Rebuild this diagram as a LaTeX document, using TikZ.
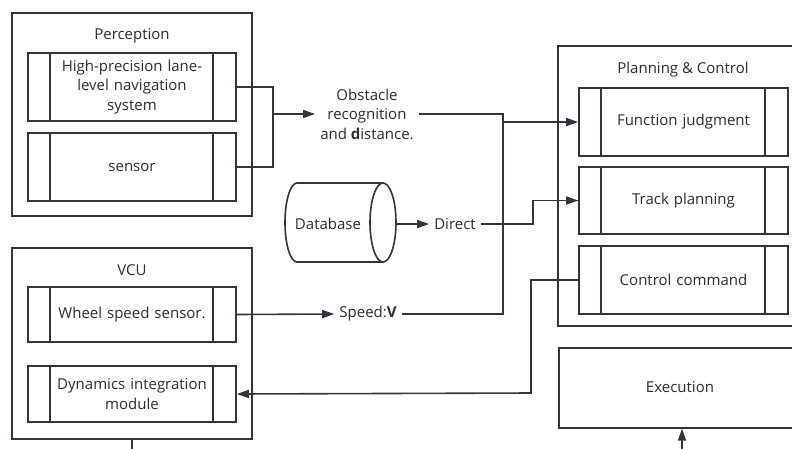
\documentclass[tikz,border=0pt]{standalone}
\usepackage{fontspec}
\setmainfont{Open Sans}
\usetikzlibrary{arrows.meta}
\definecolor{ink}{RGB}{45,45,45}
\definecolor{ln}{RGB}{50,53,57}
\tikzset{
  lbl/.style={text=ink, font=\fontsize{15pt}{19.5pt}\selectfont, align=center, inner sep=3pt},
  outerbox/.style={draw=ln, line width=1.6pt},
  subbox/.style={draw=ln, line width=1.6pt, minimum width=208pt, text width=158pt, align=center, text=ink, font=\fontsize{15pt}{19.5pt}\selectfont, inner sep=0pt},
  wire/.style={draw=ln, line width=1.6pt},
  arr/.style={wire, -{Triangle[length=12pt,width=8pt]}},
}
\newcommand{\dividers}[1]{%
  \draw[wire] ([xshift=23pt]#1.north west) -- ([xshift=23pt]#1.south west);
  \draw[wire] ([xshift=-24pt]#1.north east) -- ([xshift=-24pt]#1.south east);}
\begin{document}
\begin{tikzpicture}[x=1pt,y=-1pt]
\useasboundingbox (0,0) rectangle (792,448);
\clip (0,0) rectangle (792,448);
% Perception
\draw[outerbox] (12,13) rectangle (252,216);
\node[lbl] (perc) at (132,36) {Perception};
\node[subbox, minimum height=68pt] (hp) at (132,87) {High-precision lane-\\level navigation\\system};
\node[subbox, minimum height=68pt] (sensor) at (132,167) {sensor};
\dividers{hp}\dividers{sensor}
% VCU
\draw[outerbox] (12,248) rectangle (252,439);
\node[lbl] (vcu) at (132,270) {VCU};
\node[subbox, minimum height=55pt] (wss) at (132,314.5) {Wheel speed sensor.};
\node[subbox, minimum height=56pt] (dim) at (132,394) {Dynamics integration\\module};
\dividers{wss}\dividers{dim}
% Planning & Control
\draw[outerbox] (558,46) rectangle (810,326);
\node[lbl] (pc) at (683,70) {Planning \& Control};
\node[subbox, minimum width=209pt, minimum height=68pt] (fj) at (683.5,122) {Function judgment};
\node[subbox, minimum width=209pt, minimum height=67pt] (tp) at (683.5,200.5) {Track planning};
\node[subbox, minimum width=209pt, minimum height=68pt] (cc) at (683.5,280) {Control command};
\dividers{fj}\dividers{tp}\dividers{cc}
% Execution
\node[draw=ln, line width=1.6pt, minimum width=252pt, minimum height=80pt, anchor=north west, inner sep=0pt] (exec) at (558,347) {};
\node[lbl] (exect) at (680,387) {Execution};
% Middle labels
\node[lbl, inner sep=5pt] (obst) at (367,114) {Obstacle\\recognition\\and \textbf{d}istance.};
\node[lbl, inner sep=5pt] (direct) at (455,224) {Direct};
\node[lbl, inner sep=5pt] (speed) at (368,314) {Speed:\textbf{V}};
% Database cylinder
\draw[wire] (383,183) -- (297,183) arc[start angle=90, end angle=270, x radius=12pt, y radius=39.5pt] -- (383,262);
\draw[wire, fill=white] (383,222.5) ellipse [x radius=13pt, y radius=39.5pt];
\node[lbl] (db) at (328,224) {Database};
\coordinate (dbe) at (396,224);
% connectors
\coordinate (j1) at (273,114);
\draw[wire] (hp.east) -| (j1);
\draw[wire] (sensor.east) -| (j1);
\draw[arr] (j1) -- (obst.west);
\coordinate (j2) at (503,122);
\draw[wire] (obst.east) -| (j2);
\draw[arr] (j2) -- (fj.west);
\draw[arr] (wss.east) -- (speed.west);
\draw[wire] (speed.east) -| (j2);
\draw[arr] (dbe) -- (direct.west);
\coordinate (j3) at (533,224);
\draw[wire] (direct.east) -- (j3) |- (tp.west);
\draw[arr] (tp.west) ++(-1,0) -- (tp.west);
\coordinate (j4) at (531,393);
\draw[arr] (cc.west) -| (j4) -- (dim.east);
\coordinate (vb) at (132,439);
\coordinate (vbo) at (132,450);
\draw[wire] (vb) -- (vbo);
\coordinate (eo) at (682,450);
\draw[arr] (eo) -- (exec.south -| eo);
\end{tikzpicture}
\end{document}
